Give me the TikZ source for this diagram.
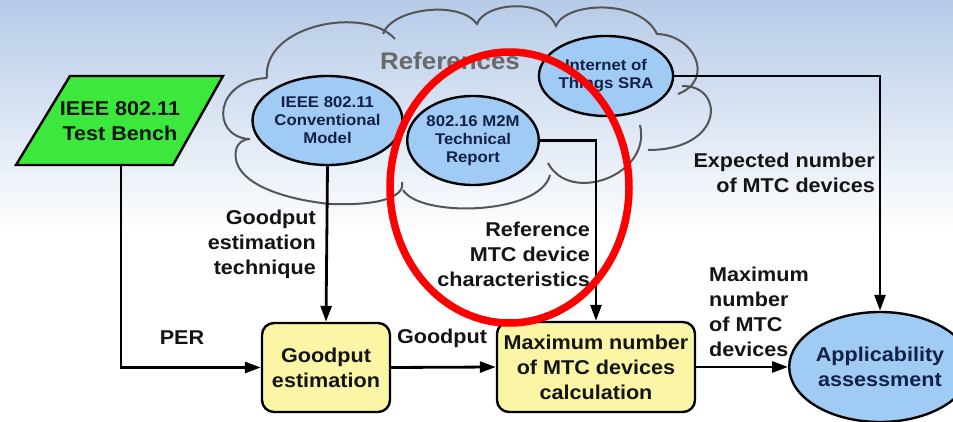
\documentclass[tikz,border=0pt]{standalone}
\usepackage{fontspec}
\setmainfont{Liberation Sans}[FakeStretch=1.08]
\usetikzlibrary{shapes.geometric,arrows.meta}
\definecolor{bgtop}{RGB}{182,203,232}
\definecolor{ellfill}{RGB}{160,203,245}
\definecolor{boxfill}{RGB}{250,246,166}
\definecolor{tbgreen}{RGB}{60,232,60}
\definecolor{navy}{RGB}{20,32,70}
\definecolor{cloudgray}{RGB}{85,85,85}
\definecolor{refgray}{RGB}{105,105,105}
\definecolor{txt}{RGB}{20,20,20}
\begin{document}
\begin{tikzpicture}[x=1pt,y=-1pt,
  conn/.style={line width=2.8pt, draw=black, -{Triangle[length=16pt,width=11pt]}},
  plainline/.style={line width=2.8pt, draw=black},
  bigfont/.style={font=\bfseries\fontsize{20}{25}\selectfont},
  lbl/.style={bigfont, text=txt, inner sep=0pt},
  procbox/.style={draw=black, line width=2.4pt, fill=boxfill, rounded corners=12pt, inner sep=0pt, align=center, bigfont, text=txt},
  refell/.style={ellipse, draw=black, line width=2.4pt, fill=ellfill, inner sep=0pt, align=center, text=navy, font=\bfseries\fontsize{15.5}{18}\selectfont},
  cloudline/.style={draw=cloudgray, line width=2pt},
]
\useasboundingbox (0,0) rectangle (953,422);
\clip (0,0) rectangle (953,422);
% background
\fill[white] (0,0) rectangle (953,422);
\shade[top color=bgtop, bottom color=white] (0,0) rectangle (953,235);

% cloud
\draw[cloudline]
  (267,78) .. controls (262,25) and (365,5) .. (395,39)
  (383,34) .. controls (392,8) and (460,0) .. (477,24)
  .. controls (485,2) and (545,-2) .. (556,26)
  .. controls (565,2) and (640,-2) .. (657,34)
  .. controls (695,35) and (715,80) .. (678,94)
  (682,86) .. controls (725,85) and (725,150) .. (648,150)
  (640,125) .. controls (652,175) and (570,205) .. (548,163)
  (550,175) .. controls (540,215) and (420,218) .. (403,190)
  (402,182) .. controls (405,195) and (385,206) .. (330,204)
  .. controls (290,200) and (230,185) .. (236,150)
  .. controls (238,142) and (244,139) .. (250,139)
  (248,139) .. controls (210,135) and (215,80) .. (267,78);
\node[text=refgray, font=\bfseries\fontsize{24}{28}\selectfont, inner sep=0pt] (refs) at (450,61) {References};

% parallelogram
\draw[fill=tbgreen, draw=black, line width=2.4pt] (70,76) -- (223,76) -- (173,165) -- (16,165) -- cycle;
\node[lbl, align=center] (tb) at (120,121) {IEEE 802.11\\Test Bench};
\coordinate (tbout) at (121,165);

% nodes
\node[procbox, minimum width=128pt, minimum height=89pt] (ge) at (326,367.5) {Goodput\\estimation};
\node[procbox, minimum width=198pt, minimum height=90pt] (mx) at (596,367) {Maximum number\\of MTC devices\\calculation};
\node[refell, minimum width=156pt, minimum height=110pt, text=navy, font=\bfseries\fontsize{20}{25}\selectfont] (app) at (880,367) {Applicability\\assessment};
\node[refell, minimum width=129pt, minimum height=89pt] (e1) at (327.5,120.5) {IEEE 802.11\\Conventional\\Model};
\node[refell, minimum width=128pt, minimum height=89pt] (e2) at (473,140.5) {802.16 M2M\\Technical\\Report};
\node[refell, minimum width=118pt, minimum height=80pt] (e3) at (606,76) {Internet of\\Things SRA};

% connectors
\draw[conn] (tbout) |- (ge.west);
\draw[conn] (e1.south) -- (ge.north);
\draw[conn] (ge.east) -- (mx.west);
\draw[conn] (e2.east) -| (mx.north);
\draw[conn] (e3.east) -| (app.north);
\draw[conn] (mx.east) -- (app.west);

% labels
\node[lbl] (lper) at (182,338) {PER};
\node[lbl, align=right, anchor=east] (lget) at (316,244) {Goodput\\estimation\\technique};
\node[lbl] (lgp) at (442,338) {Goodput};
\node[lbl, align=right, anchor=east] (lref) at (590,254) {Reference\\MTC device\\characteristics};
\node[lbl, align=left, anchor=west] (lmax) at (709,311.5) {Maximum\\number\\of MTC\\devices};
\node[lbl, align=right, anchor=east] (lexp) at (875,173) {Expected number\\of MTC devices};

% highlight
\draw[red, line width=7.5pt] (509.5,187.5) ellipse [x radius=119.5pt, y radius=135.5pt];
\end{tikzpicture}
\end{document}
